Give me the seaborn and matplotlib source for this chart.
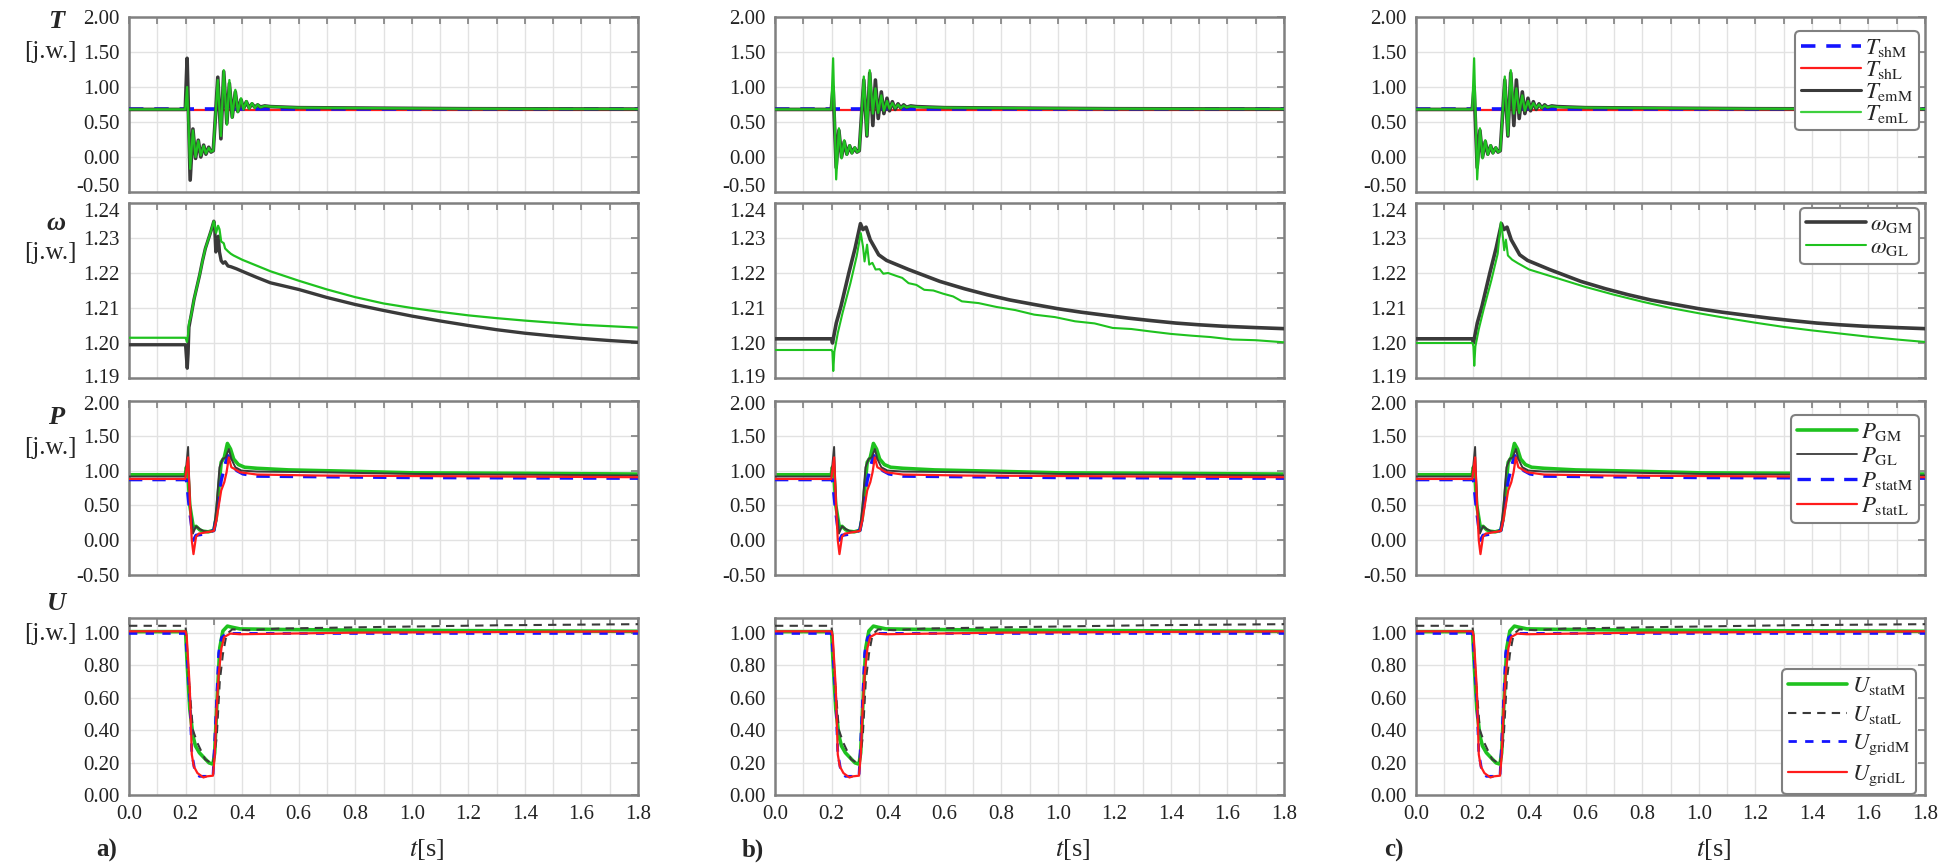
import matplotlib
matplotlib.use("Agg")
import seaborn as sns
import matplotlib.pyplot as plt
from matplotlib.ticker import MultipleLocator, FormatStrFormatter
from matplotlib.transforms import ScaledTranslation

sns.set_style("white")
plt.rcParams["font.family"] = ["Liberation Serif", "DejaVu Serif"]
plt.rcParams["mathtext.fontset"] = "stix"

# ---------------- T (torques) ----------------
t_T = [0, 0.199, 0.2055, 0.2163, 0.226, 0.2354, 0.245, 0.254, 0.264, 0.272, 0.282, 0.29, 0.298,
       0.306, 0.314, 0.325, 0.335, 0.346, 0.355, 0.365, 0.376, 0.385, 0.396, 0.405, 0.415, 0.425,
       0.435, 0.445, 0.455, 0.465, 0.48, 0.5, 0.6, 0.8, 1.2, 1.8]
T_sh_t = [0, 1.8]
T_shM = [0.68, 0.68]
T_shL = [0.675, 0.675]
T_emM_a = [0.68, 0.68, 1.41, -0.33, 0.40, -0.02, 0.24, 0.0, 0.17, 0.04, 0.14, 0.07, 0.09,
           0.6, 1.14, 0.26, 1.22, 0.48, 1.05, 0.57, 0.93, 0.65, 0.82, 0.69, 0.79, 0.70,
           0.76, 0.71, 0.745, 0.715, 0.73, 0.72, 0.705, 0.70, 0.69, 0.685]
T_emL_a = [0.68, 0.68, 1.0, -0.17, 0.38, 0.0, 0.23, 0.02, 0.16, 0.05, 0.13, 0.075, 0.09,
           0.6, 1.10, 0.30, 1.24, 0.46, 1.10, 0.56, 0.96, 0.64, 0.84, 0.68, 0.80, 0.69,
           0.77, 0.70, 0.75, 0.71, 0.73, 0.72, 0.705, 0.70, 0.69, 0.685]
T_emM_bc = [0.68, 0.68, 1.0, -0.15, 0.38, 0.0, 0.22, 0.04, 0.16, 0.06, 0.13, 0.07, 0.09,
            0.6, 1.10, 0.30, 1.20, 0.45, 1.10, 0.55, 0.93, 0.62, 0.84, 0.66, 0.79, 0.68,
            0.76, 0.70, 0.745, 0.71, 0.73, 0.72, 0.705, 0.70, 0.69, 0.685]
T_emL_bc = [0.68, 0.68, 1.41, -0.32, 0.41, -0.02, 0.24, 0.03, 0.17, 0.05, 0.14, 0.07, 0.09,
            0.6, 1.15, 0.31, 1.24, 0.62, 0.98, 0.63, 0.88, 0.66, 0.80, 0.69, 0.77, 0.70,
            0.75, 0.70, 0.735, 0.71, 0.725, 0.715, 0.705, 0.70, 0.69, 0.685]

# ---------------- omega (speeds) ----------------
w_a_GM_t = [0, 0.2, 0.203, 0.206, 0.209, 0.212, 0.22, 0.23, 0.24, 0.25, 0.26, 0.27, 0.28, 0.29,
            0.30, 0.303, 0.307, 0.312, 0.316, 0.32, 0.326, 0.333, 0.34, 0.35, 0.36, 0.38, 0.40,
            0.45, 0.5, 0.6, 0.7, 0.8, 0.9, 1.0, 1.1, 1.2, 1.3, 1.4, 1.5, 1.6, 1.7, 1.8]
w_a_GM = [1.1995, 1.1995, 1.196, 1.1928, 1.197, 1.2045, 1.208, 1.2125, 1.216, 1.2195, 1.2235,
          1.227, 1.2295, 1.232, 1.2348, 1.233, 1.226, 1.2295, 1.2305, 1.226, 1.2235, 1.2228,
          1.2232, 1.222, 1.2218, 1.2212, 1.2205, 1.2188, 1.2172, 1.2153, 1.2130, 1.2110,
          1.2093, 1.2077, 1.2063, 1.2050, 1.2038, 1.2028, 1.2020, 1.2013, 1.2007, 1.2002]
w_a_GL_t = [0, 0.2, 0.205, 0.209, 0.212, 0.22, 0.23, 0.24, 0.25, 0.26, 0.27, 0.28, 0.29, 0.30,
            0.302, 0.308, 0.315, 0.32, 0.326, 0.335, 0.34, 0.35, 0.36, 0.37, 0.4, 0.5, 0.6,
            0.7, 0.8, 0.9, 1.0, 1.1, 1.2, 1.3, 1.4, 1.5, 1.6, 1.7, 1.8]
w_a_GL = [1.2015, 1.2015, 1.2003, 1.2025, 1.2055, 1.208, 1.2125, 1.216, 1.2195, 1.2235, 1.227,
          1.2295, 1.232, 1.2348, 1.234, 1.2315, 1.2335, 1.2325, 1.229, 1.2285, 1.2270, 1.2262,
          1.2255, 1.2250, 1.2238, 1.2205, 1.2178, 1.2153, 1.2131, 1.2113, 1.2100, 1.2089,
          1.2079, 1.2071, 1.2064, 1.2058, 1.2052, 1.2048, 1.2044]
w_b_GM_t = [0, 0.2, 0.2033, 0.2167, 0.2333, 0.2611, 0.2833, 0.3022, 0.311, 0.322, 0.3367, 0.35,
            0.3667, 0.3944, 0.4722, 0.583, 0.67, 0.75, 0.83, 0.9167, 1.0, 1.083, 1.17, 1.25,
            1.33, 1.4167, 1.5, 1.583, 1.7, 1.8]
w_b_GM = [1.2012, 1.2012, 1.2000, 1.2057, 1.2105, 1.2200, 1.2271, 1.2341, 1.2324, 1.2331,
          1.2295, 1.2276, 1.2252, 1.2236, 1.2210, 1.2176, 1.2155, 1.2138, 1.2123, 1.2110,
          1.2098, 1.2088, 1.2079, 1.2071, 1.2064, 1.2057, 1.2052, 1.2048, 1.2044, 1.2041]
w_b_GL_t = [0, 0.2, 0.203, 0.206, 0.21, 0.2222, 0.2389, 0.2667, 0.2889, 0.3033, 0.311, 0.3167,
            0.3256, 0.3333, 0.3444, 0.3556, 0.37, 0.383, 0.40, 0.4278, 0.45, 0.4722, 0.5,
            0.5278, 0.56, 0.594, 0.63, 0.661, 0.72, 0.783, 0.85, 0.9167, 0.99, 1.061, 1.13,
            1.194, 1.26, 1.328, 1.40, 1.472, 1.54, 1.617, 1.70, 1.8]
w_b_GL = [1.1980, 1.1980, 1.1975, 1.1920, 1.1975, 1.2029, 1.2086, 1.2171, 1.2248, 1.2314,
          1.2276, 1.2233, 1.2281, 1.2224, 1.2229, 1.2210, 1.2211, 1.2198, 1.2200, 1.2192,
          1.2186, 1.2171, 1.2166, 1.2152, 1.2150, 1.2141, 1.2133, 1.2119, 1.2114, 1.2103,
          1.2094, 1.2081, 1.2074, 1.2062, 1.2056, 1.2043, 1.2040, 1.2033, 1.2026, 1.2021,
          1.2017, 1.2010, 1.2008, 1.2002]
w_c_GL_t = [0, 0.2, 0.203, 0.206, 0.21, 0.2222, 0.2389, 0.2667, 0.2889, 0.30, 0.305, 0.312,
            0.318, 0.325, 0.34, 0.36, 0.4, 0.5, 0.6, 0.7, 0.8, 0.9, 1.0, 1.1, 1.2, 1.3, 1.4,
            1.5, 1.6, 1.7, 1.8]
w_c_GL = [1.2000, 1.2000, 1.1990, 1.1935, 1.1990, 1.2040, 1.2095, 1.2180, 1.2255, 1.2345,
          1.2320, 1.2265, 1.2295, 1.2250, 1.2238, 1.2228, 1.2210, 1.2185, 1.2160, 1.2138,
          1.2118, 1.2100, 1.2085, 1.2071, 1.2058, 1.2046, 1.2036, 1.2027, 1.2018, 1.2010,
          1.2003]

# ---------------- P (powers) ----------------
P_GM_t = [0, 0.199, 0.203, 0.209, 0.215, 0.228, 0.237, 0.25, 0.26, 0.28, 0.3, 0.309, 0.318,
          0.326, 0.337, 0.348, 0.359, 0.37, 0.387, 0.409, 0.453, 0.564, 0.787, 1.009, 1.4, 1.8]
P_GM = [0.94, 0.94, 1.05, 0.9, 0.5, 0.17, 0.20, 0.15, 0.13, 0.12, 0.143, 0.333, 0.762, 1.12,
        1.19, 1.39, 1.31, 1.167, 1.086, 1.048, 1.033, 1.01, 0.99, 0.967, 0.96, 0.95]
P_GL_t = [0, 0.199, 0.209, 0.216, 0.226, 0.237, 0.25, 0.265, 0.285, 0.3, 0.309, 0.32, 0.331,
          0.342, 0.353, 0.362, 0.376, 0.398, 0.453, 0.676, 1.009, 1.8]
P_GL = [0.915, 0.915, 1.34, 0.5, 0.095, 0.20, 0.16, 0.13, 0.12, 0.14, 0.476, 1.048, 1.167,
        1.19, 1.31, 1.167, 1.048, 1.0, 0.986, 0.976, 0.952, 0.93]
P_statM_t = [0, 0.203, 0.215, 0.228, 0.237, 0.26, 0.3, 0.309, 0.326, 0.342, 0.35, 0.364, 0.381,
             0.403, 0.453, 1.0, 1.8]
P_statM = [0.87, 0.87, 0.4, 0.0, 0.07, 0.086, 0.14, 0.333, 0.857, 1.119, 1.214, 1.095, 1.0,
           0.952, 0.92, 0.90, 0.89]
P_statL_t = [0, 0.199, 0.209, 0.216, 0.222, 0.228, 0.237, 0.247, 0.262, 0.3, 0.309, 0.326,
             0.337, 0.345, 0.353, 0.362, 0.373, 0.393, 0.453, 0.676, 1.8]
P_statL = [0.88, 0.88, 1.19, 0.5, 0.0, -0.20, 0.048, 0.095, 0.105, 0.133, 0.286, 0.714, 0.833,
           0.976, 1.19, 1.048, 1.024, 0.976, 0.943, 0.929, 0.905]

# ---------------- U (voltages) ----------------
U_statM_t = [0, 0.2, 0.206, 0.215, 0.226, 0.235, 0.249, 0.269, 0.283, 0.297, 0.303, 0.31,
             0.321, 0.332, 0.348, 0.365, 0.392, 0.5, 0.8, 1.2, 1.8]
U_statM = [1.006, 1.006, 0.80, 0.53, 0.365, 0.302, 0.26, 0.223, 0.198, 0.19, 0.26, 0.53, 0.906,
           1.01, 1.04, 1.033, 1.023, 1.02, 1.015, 1.012, 1.008]
U_statL_t = [0, 0.2, 0.215, 0.226, 0.242, 0.269, 0.297, 0.31, 0.321, 0.332, 0.345, 0.365, 0.42,
             0.528, 0.9, 1.3, 1.8]
U_statL = [1.042, 1.042, 0.64, 0.40, 0.32, 0.22, 0.19, 0.35, 0.70, 0.867, 0.99, 1.02, 1.015,
           1.025, 1.035, 1.045, 1.052]
U_gridM_t = [0, 0.2, 0.215, 0.222, 0.231, 0.249, 0.297, 0.303, 0.31, 0.317, 0.327, 0.345, 1.8]
U_gridM = [0.995, 0.995, 0.594, 0.26, 0.167, 0.115, 0.115, 0.33, 0.59, 0.875, 0.969, 0.995, 0.995]
U_gridL_t = [0, 0.2, 0.204, 0.215, 0.222, 0.229, 0.242, 0.263, 0.276, 0.297, 0.303, 0.31, 0.317,
             0.327, 0.337, 0.358, 0.392, 0.8, 1.8]
U_gridL = [1.008, 1.008, 0.98, 0.656, 0.25, 0.177, 0.135, 0.108, 0.115, 0.119, 0.24, 0.53,
           0.74, 0.906, 0.973, 0.994, 0.99, 1.0, 1.008]

panel_tags = ["a)", "b)", "c)"]
row_symbols = ["T", "ω", "P", "U"]

BLUE = "#1414ff"
RED = "#ff1c1c"
GRAY = "#3a3a3a"
GREEN = "#1fc21f"
SPINE = "#808080"
DASH = (0, (4, 3))

W, H = 1941, 866
fig = plt.figure(figsize=(W / 100, H / 100), dpi=100)
col_left = [129, 775, 1416]
ax_w = 509
row_top = [17, 203, 401, 618]
row_bot = [192, 378, 575, 795]
sym_y = [22, 223, 418, 604]
unit_y = [52, 253, 448, 634]
ylims = [(-0.5, 2.0), (1.19, 1.24), (-0.5, 2.0), (0.0, 1.09)]


def line(ax, t, v, color, lw, ls="-", z=2):
    sns.lineplot(x=t, y=v, ax=ax, color=color, linewidth=lw, linestyle=ls,
                 estimator=None, sort=False, zorder=z, legend=False)


def style(ax, row, ystep):
    ax.set_xlim(0, 1.8)
    ax.set_ylim(*ylims[row])
    ax.xaxis.set_major_locator(MultipleLocator(0.2))
    ax.xaxis.set_minor_locator(MultipleLocator(0.1))
    ax.xaxis.set_major_formatter(FormatStrFormatter("%.1f"))
    ax.yaxis.set_major_locator(MultipleLocator(ystep))
    ax.yaxis.set_major_formatter(FormatStrFormatter("%.2f"))
    ax.grid(True, which="both", axis="x", color="#e2e2e2", lw=1.0)
    ax.grid(True, which="major", axis="y", color="#e2e2e2", lw=1.0)
    ax.tick_params(which="both", direction="in", top=True, right=True, color=SPINE,
                   length=5, width=1.2, labelsize=15, pad=7, labelcolor="#222222")
    if row < 3:
        ax.tick_params(labelbottom=False)
    for s in ax.spines.values():
        s.set_color(SPINE)
        s.set_linewidth(1.8)
    ax.set_xlabel("")
    ax.set_ylabel("")


def legend(ax, handles, labels, loc, anchor, spacing):
    lg = ax.legend(handles, labels, loc=loc, bbox_to_anchor=anchor, fontsize=16.5,
                   framealpha=1, edgecolor=SPINE, labelspacing=spacing, borderpad=0.25,
                   handletextpad=0.2, handlelength=2.6, borderaxespad=0.0, fancybox=True)
    lg.get_frame().set_linewidth(1.5)


def h(color, lw, ls="-"):
    return plt.Line2D([], [], color=color, lw=lw, ls=ls)


grid_axes = []
for c in range(3):
    x0 = col_left[c]
    axes = []
    for r in range(4):
        rect = [x0 / W, 1 - row_bot[r] / H, ax_w / W, (row_bot[r] - row_top[r]) / H]
        axes.append(fig.add_axes(rect))
    grid_axes.append(axes)
    lab = c == 2

    # row 1: torques
    ax = axes[0]
    line(ax, T_sh_t, T_shL, RED, 1.6, z=2)
    line(ax, T_sh_t, T_shM, BLUE, 2.6, ls=DASH, z=3)
    if c == 0:
        line(ax, t_T, T_emM_a, GRAY, 2.6, z=4)
        line(ax, t_T, T_emL_a, GREEN, 1.6, z=5)
    else:
        line(ax, t_T, T_emM_bc, GRAY, 2.6, z=4)
        line(ax, t_T, T_emL_bc, GREEN, 1.6, z=5)
    style(ax, 0, 0.5)
    if lab:
        legend(ax, [h(BLUE, 2.6, DASH), h(RED, 1.6), h(GRAY, 2.2), h("#3fd03f", 1.6)],
               [r"$T_{\mathrm{shM}}$", r"$T_{\mathrm{shL}}$", r"$T_{\mathrm{emM}}$",
                r"$T_{\mathrm{emL}}$"], "upper right", (0.988, 0.92), 0.0)

    # row 2: speeds
    ax = axes[1]
    if c == 0:
        line(ax, w_a_GM_t, w_a_GM, GRAY, 2.4, z=3)
        line(ax, w_a_GL_t, w_a_GL, GREEN, 1.6, z=4)
    elif c == 1:
        line(ax, w_b_GM_t, w_b_GM, GRAY, 2.6, z=3)
        line(ax, w_b_GL_t, w_b_GL, GREEN, 1.5, z=4)
    else:
        line(ax, w_b_GM_t, w_b_GM, GRAY, 2.6, z=3)
        line(ax, w_c_GL_t, w_c_GL, GREEN, 1.5, z=4)
    style(ax, 1, 0.01)
    if lab:
        legend(ax, [h(GRAY, 2.6), h(GREEN, 1.5)],
               [r"$\omega_{\mathrm{GM}}$", r"$\omega_{\mathrm{GL}}$"],
               "upper right", (0.988, 0.97), 0.1)

    # row 3: powers
    ax = axes[2]
    line(ax, P_statM_t, P_statM, BLUE, 2.4, ls=DASH, z=3)
    line(ax, P_GL_t, P_GL, GRAY, 1.4, z=4)
    line(ax, P_statL_t, P_statL, RED, 1.6, z=5)
    line(ax, P_GM_t, P_GM, GREEN, 2.6, z=2)
    style(ax, 2, 0.5)
    if lab:
        legend(ax, [h(GREEN, 2.6), h(GRAY, 1.3), h(BLUE, 2.4, DASH), h(RED, 1.6)],
               [r"$P_{\mathrm{GM}}$", r"$P_{\mathrm{GL}}$", r"$P_{\mathrm{statM}}$",
                r"$P_{\mathrm{statL}}$"], "upper right", (0.988, 0.92), 0.12)

    # row 4: voltages
    ax = axes[3]
    line(ax, U_statM_t, U_statM, GREEN, 2.6, z=2)
    line(ax, U_statL_t, U_statL, GRAY, 1.5, ls=DASH, z=3)
    line(ax, U_gridM_t, U_gridM, BLUE, 2.0, ls=(0, (3, 3)), z=4)
    line(ax, U_gridL_t, U_gridL, RED, 1.6, z=5)
    style(ax, 3, 0.2)
    if lab:
        legend(ax, [h(GREEN, 2.6), h(GRAY, 1.5, DASH), h(BLUE, 2.0, (0, (3, 3))), h(RED, 1.6)],
               [r"$U_{\mathrm{statM}}$", r"$U_{\mathrm{statL}}$", r"$U_{\mathrm{gridM}}$",
                r"$U_{\mathrm{gridL}}$"], "lower right", (0.982, 0.005), 0.3)

    fig.text((x0 - 22) / W, 1 - 850 / H, panel_tags[c], fontsize=18,
             fontweight="bold", ha="center", va="center")
    fig.text((x0 + 0.585 * ax_w) / W, 1 - 850 / H, r"$t$[s]", fontsize=19,
             ha="center", va="center")

for r in range(4):
    fig.text(56 / W, 1 - sym_y[r] / H, row_symbols[r], fontsize=19,
             fontweight="bold", style="italic", ha="center", va="center")
    fig.text(50 / W, 1 - unit_y[r] / H, "[j.w.]", fontsize=18,
             ha="center", va="center")

# the end labels of neighbouring rows sit very close: nudge them apart a little
fig.canvas.draw()


def nudge(ax, loc, dy_px):
    for tk in ax.yaxis.get_major_ticks():
        if abs(tk.get_loc() - loc) < 1e-6:
            tk.label1.set_transform(tk.label1.get_transform()
                                    + ScaledTranslation(0, dy_px / 100, fig.dpi_scale_trans))


for axes in grid_axes:
    nudge(axes[0], ylims[0][0], 7)
    nudge(axes[1], ylims[1][1], -7)
    nudge(axes[1], ylims[1][0], 2)
    nudge(axes[2], ylims[2][1], -2)

fig.savefig("out.png", dpi=100)
